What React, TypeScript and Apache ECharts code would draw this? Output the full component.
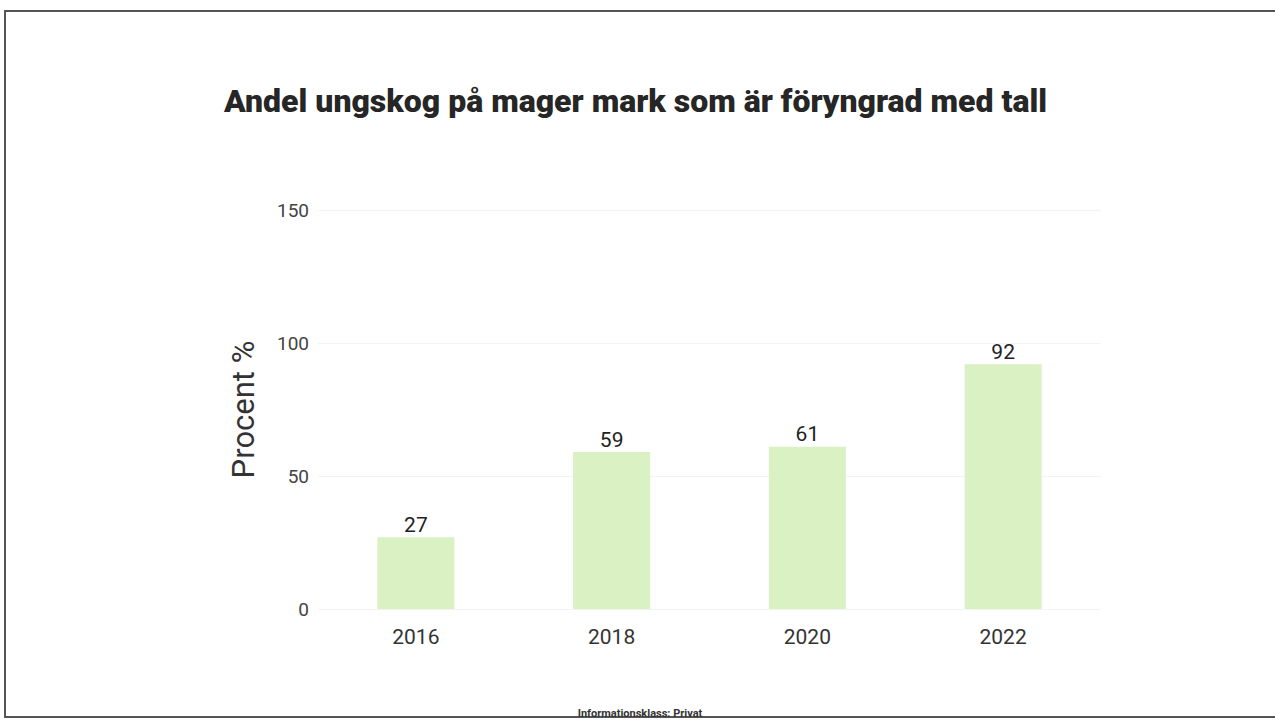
import React, { useEffect, useRef } from "react";
import * as echarts from "echarts";

const categories = ["2016", "2018", "2020", "2022"];
const values = [27, 59, 61, 92];
const yTicks = { min: 0, max: 150, interval: 50 };

export default function App() {
  const ref = useRef<HTMLDivElement>(null);
  useEffect(() => {
    document.body.style.margin = "0";
    const chart = echarts.init(ref.current!, null, { renderer: "svg" });
    chart.setOption({
      animation: false,
      backgroundColor: "#ffffff",
      title: {
        text: "Andel ungskog på mager mark som är föryngrad med tall",
        left: 219,
        top: 80,
        textStyle: { fontFamily: "Roboto", fontWeight: 900, fontSize: 32, color: "#262626" },
      },
      grid: { left: 318, right: 174, top: 210, bottom: 113 },
      xAxis: {
        type: "category",
        data: categories,
        axisLine: { show: false },
        axisTick: { show: false },
        axisLabel: { fontFamily: "Roboto", fontSize: 21, color: "#333", margin: 17 },
      },
      yAxis: {
        type: "value",
        min: yTicks.min,
        max: yTicks.max,
        interval: yTicks.interval,
        name: "Procent %",
        nameLocation: "middle",
        nameGap: 59,
        nameRotate: 90,
        nameTextStyle: { fontFamily: "Roboto", fontSize: 31, color: "#333" },
        axisLabel: { fontFamily: "Roboto", fontSize: 19, color: "#444", margin: 9 },
        splitLine: { lineStyle: { color: "#f3f3f3", width: 1 } },
      },
      series: [
        {
          type: "bar",
          data: values,
          barWidth: 77,
          itemStyle: { color: "#d9f1c3" },
          label: { show: true, position: "top", fontFamily: "Roboto", fontSize: 21, color: "#222", distance: 2 },
        },
      ],
      graphic: [
        {
          type: "rect",
          shape: { x: 5, y: 11, width: 1290, height: 706 },
          style: { fill: "none", stroke: "#555", lineWidth: 2 },
          silent: true,
        },
        {
          type: "text",
          x: 640,
          y: 713,
          style: {
            text: "Informationsklass: Privat",
            fontFamily: "Liberation Sans Narrow, Roboto",
            fontSize: 11,
            fontWeight: "bold",
            fill: "#333",
            align: "center",
            verticalAlign: "middle",
          },
        },
      ],
    });
    return () => chart.dispose();
  }, []);
  return <div ref={ref} style={{ position: "absolute", left: 0, top: 0, width: 1275, height: 722 }} />;
}
